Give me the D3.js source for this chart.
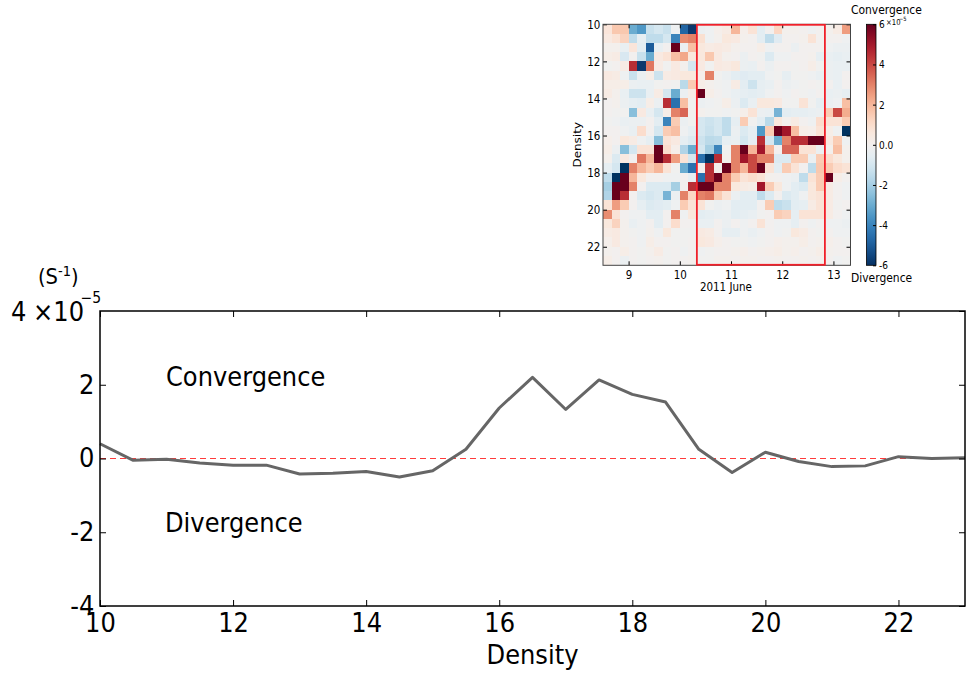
<!DOCTYPE html>
<html><head><meta charset="utf-8">
<script src="https://cdn.jsdelivr.net/npm/d3@7"></script>
<style>body{margin:0;background:#fff}svg{display:block}text{font-family:"DejaVu Sans",sans-serif}</style>
</head><body>
<svg id="c" width="967" height="673"></svg>
<script>
// ---- main line data (Density vs mean convergence, x1e-5 s^-1) ----
const lineDensity = [10,10.5,11,11.5,12,12.5,13,13.5,14,14.5,15,15.5,16,16.5,17,17.5,18,18.5,19,19.5,20,20.5,21,21.5,22,22.5,23];
const lineValues  = [0.40,-0.05,-0.02,-0.12,-0.18,-0.18,-0.42,-0.40,-0.35,-0.50,-0.33,0.25,1.37,2.20,1.33,2.13,1.74,1.53,0.25,-0.38,0.17,-0.08,-0.22,-0.20,0.05,0.00,0.02];
const mainXTicks = [10,12,14,16,18,20,22];
const mainYTicks = [-4,-2,0,2];

// ---- inset heatmap data ----
const heatCols = [8.5,8.6667,8.8333,9.0,9.1667,9.3333,9.5,9.6667,9.8333,10.0,10.1667,10.3333,10.5,10.6667,10.8333,11.0,11.1667,11.3333,11.5,11.6667,11.8333,12.0,12.1667,12.3333,12.5,12.6667,12.8333,13.0,13.1667];
const heatRows = [10,10.5,11,11.5,12,12.5,13,13.5,14,14.5,15,15.5,16,16.5,17,17.5,18,18.5,19,19.5,20,20.5,21,21.5,22,22.5];
const heatValues = [
[0.7,1.6,1.6,-3.0,-3.5,-1.3,-1.0,-1.3,-0.2,-4.8,-5.8,-0.3,-0.2,0.2,0.4,2.0,0.2,0.8,-0.6,0.0,1.2,0.1,0.1,0.0,-0.2,0.0,0.1,0.4,2.5],
[0.5,0.8,1.3,-1.5,-0.5,-1.5,-1.5,-1.0,-4.0,2.8,3.0,0.9,-0.2,0.1,0.6,0.5,0.1,0.0,-0.6,-1.5,-0.7,0.0,0.0,0.1,0.8,0.0,0.0,0.0,-0.2],
[0.1,0.1,-0.4,0.7,-0.6,-5.0,-0.4,0.0,6.0,-0.3,1.8,0.6,0.4,0.5,0.4,0.1,0.0,0.0,0.3,-0.2,0.0,0.0,-0.3,0.0,0.0,0.0,-0.2,-0.3,-0.3],
[0.3,0.4,-0.9,0.0,-1.3,-3.0,0.5,0.8,1.8,2.3,0.6,0.6,1.6,0.5,0.1,0.0,-0.3,0.0,-0.1,-0.8,-0.2,-0.2,0.0,0.0,0.1,-0.5,-0.4,-0.5,-0.4],
[-0.1,0.0,0.4,4.5,-5.8,3.2,0.4,-0.1,0.5,0.1,-1.0,0.5,-0.1,0.5,0.4,0.6,-0.3,-0.4,0.0,-0.3,0.0,0.0,-0.1,0.0,0.3,-0.1,-0.3,-0.4,-0.4],
[0.5,0.4,-0.2,-1.3,-0.3,0.3,-1.2,0.4,0.5,0.6,0.6,0.2,3.0,-0.1,-0.3,-0.6,-0.7,-0.6,-0.6,-0.2,-0.1,-0.5,-0.1,-0.1,-0.2,-0.4,-0.3,-0.4,0.0],
[0.3,0.3,0.3,-0.3,-0.4,-0.4,-0.1,0.0,-0.1,-1.6,1.5,0.3,0.1,-0.1,-0.2,0.4,-0.6,-1.2,-0.5,-0.4,0.0,-0.3,-0.2,-0.1,0.0,-0.1,0.0,-0.4,0.0],
[0.4,0.1,-0.4,-1.2,-1.2,-0.4,0.4,-1.0,-3.0,-0.3,0.3,6.0,0.3,0.0,-0.2,-0.4,-0.5,-0.6,-0.5,-0.2,0.0,-0.2,0.0,-0.1,-0.2,0.0,-0.4,-0.3,-0.5],
[0.0,0.1,-0.3,-0.5,-0.6,0.3,-0.3,4.5,-4.5,1.8,-0.1,-0.3,-0.2,-0.1,0.3,-0.3,-0.8,-0.4,0.6,0.6,0.5,-0.1,-0.1,0.8,-0.1,-0.5,-0.3,-0.2,1.8],
[0.0,-0.1,-0.1,-2.5,0.5,-0.4,-1.0,0.3,3.0,3.5,0.0,0.1,-0.1,-0.1,-0.2,-0.1,0.2,0.8,-0.3,-0.4,-2.8,-0.6,-0.5,-0.5,-0.4,-0.3,1.5,4.0,2.2],
[-0.1,-0.2,-0.4,-0.3,-0.3,0.0,-0.6,-4.0,1.5,-0.3,-0.1,-1.0,-1.2,-1.0,-1.5,-0.5,1.5,-0.1,-0.6,-1.6,0.6,0.1,0.4,0.0,-0.2,1.0,0.8,0.8,1.5],
[0.0,0.0,-0.2,-0.4,1.0,0.0,-1.0,1.5,1.8,-0.2,-0.5,-1.0,-1.3,-1.0,-1.5,-0.3,-0.8,-0.5,-3.5,1.5,6.0,5.0,1.8,0.3,0.2,0.8,0.3,-0.2,-6.0],
[0.2,0.0,0.6,0.4,-0.2,-0.5,-2.5,0.8,0.5,-0.5,-0.8,-1.2,-1.6,-1.5,-0.5,-0.4,-1.0,-0.5,4.5,-1.0,-3.0,3.0,4.5,4.5,6.0,6.0,0.5,1.5,-0.2],
[0.3,-0.3,-2.5,-1.0,0.8,0.8,6.0,1.0,0.2,-1.8,-3.0,-1.0,-2.0,-4.0,-0.1,3.0,6.0,2.0,5.0,2.0,0.0,3.5,3.5,0.8,0.8,-0.3,0.1,1.8,0.1],
[0.1,-0.8,0.5,0.0,3.2,2.0,6.0,4.5,2.5,0.8,-1.0,-4.5,-6.0,4.5,0.1,3.0,5.0,4.0,3.0,3.0,-0.8,-0.8,1.5,1.5,-0.3,1.5,1.0,0.6,0.1],
[-0.5,-1.0,-6.0,3.0,2.0,1.5,2.0,0.8,-0.1,-3.0,-4.5,0.0,4.5,0.1,6.0,3.0,2.0,4.0,6.0,0.8,-0.6,1.5,0.8,0.0,-1.5,1.6,1.5,1.0,0.8],
[-1.5,-6.0,6.0,2.0,0.6,0.0,0.0,-0.2,-0.2,0.0,-0.5,-4.5,4.5,6.0,3.0,1.5,0.8,1.0,0.8,0.1,0.0,-0.2,-0.3,-1.5,0.8,1.5,6.0,0.3,0.0],
[-2.0,6.0,6.0,3.0,0.0,-0.8,-0.8,-0.8,-2.0,0.0,4.5,6.0,6.0,3.0,3.0,0.6,0.4,0.3,5.0,1.5,0.6,-0.2,-0.6,-0.8,0.6,1.5,0.4,0.0,-0.2],
[-1.8,6.0,4.5,0.0,-0.8,-1.0,-0.8,-2.8,-0.3,3.0,1.2,3.0,3.2,1.5,0.8,-0.3,-0.6,-0.6,-1.5,-0.8,0.0,-0.8,-0.6,-0.2,0.6,0.8,0.4,0.0,-0.2],
[0.8,2.5,1.5,0.0,-0.5,-0.8,-0.7,-0.6,-0.2,1.5,0.8,0.8,-0.1,-0.3,-0.2,-0.6,-0.6,-0.6,0.0,1.5,-1.5,-1.3,-0.6,-0.5,0.4,0.8,0.4,-0.1,0.0],
[2.8,0.8,0.0,-0.2,-0.2,-0.6,-0.6,0.0,3.0,-0.2,0.6,-0.6,-0.5,-0.4,-0.3,-0.6,-0.5,-0.4,-0.1,0.0,1.5,1.3,-0.5,0.8,0.8,0.8,0.4,0.0,-0.2],
[0.6,1.3,0.1,-0.4,-0.2,0.0,-0.6,0.0,1.0,0.0,0.0,-0.4,-0.4,0.0,-0.3,0.0,-0.2,0.0,0.8,0.0,-0.2,-0.2,-0.5,0.0,-0.2,0.0,-0.2,-0.2,-0.3],
[0.4,0.5,0.1,-0.1,-0.2,0.1,-0.2,0.6,-0.1,-0.1,-0.1,0.5,0.4,0.0,-0.5,-0.5,-0.2,-0.4,-0.2,0.0,-0.2,-0.1,0.6,0.4,0.0,-0.1,0.0,-0.2,-0.2],
[0.2,0.5,0.1,0.0,-0.2,0.3,0.0,0.0,-0.1,-0.1,0.0,0.6,0.5,0.2,0.0,-0.1,-0.1,-0.2,-0.1,0.0,0.2,0.1,0.1,0.3,0.0,0.1,0.2,0.0,-0.1],
[0.1,0.0,0.3,0.0,-0.1,0.1,0.4,-0.1,0.0,-0.2,0.0,-0.2,-0.1,0.0,0.0,0.1,0.2,0.0,0.1,0.2,0.3,0.1,0.2,0.0,0.1,0.3,0.1,0.0,0.0],
[0.3,0.0,-0.3,0.0,-0.1,0.0,0.1,-0.1,0.0,0.0,0.1,-0.1,-0.1,0.1,0.1,0.0,0.1,0.1,0.0,0.0,0.1,0.0,0.0,0.1,0.0,0.1,0.0,-0.2,-0.1]
];
const heatXTicks = [9,10,11,12,13];
const heatYTicks = [10,12,14,16,18,20,22];
const cbTicks = [-6,-4,-2,0,2,4,6];
const boxDays = [10.3333,12.8333];

const SXM = 0.93; // horizontal squeeze of main-chart text
const SXI = 0.86; // horizontal squeeze of inset text
const svg = d3.select("#c");

function label(x, y, s, size, sx, anchor, rot) {
  const g = svg.append("g").attr("transform", `translate(${x},${y})` + (rot ? ` rotate(${rot})` : "") + ` scale(${rot ? 1 : sx},${rot ? sx : 1})`);
  return g.append("text").attr("font-size", size).attr("text-anchor", anchor || "start").attr("fill", "#000").text(s);
}

// ================= main chart =================
const mx = d3.scaleLinear().domain([10, 23]).range([100, 965]);
const my = d3.scaleLinear().domain([-4, 4]).range([606, 311]);

svg.append("line").attr("x1", mx(10)).attr("x2", mx(23)).attr("y1", my(0)).attr("y2", my(0))
  .attr("stroke", "#ff3b3b").attr("stroke-width", 1.2).attr("stroke-dasharray", "6,4");

const pts = lineDensity.map((d, i) => [d, lineValues[i]]);
svg.append("path").datum(pts)
  .attr("d", d3.line().x(d => mx(d[0])).y(d => my(d[1])))
  .attr("fill", "none").attr("stroke", "#666").attr("stroke-width", 3).attr("stroke-linejoin", "round");

function styleAxis(g, size, sx, noLabels) {
  g.select(".domain").remove();
  g.selectAll(".tick line").attr("stroke", "#000").attr("stroke-width", 1);
  if (noLabels) g.selectAll(".tick text").remove();
  else g.selectAll(".tick text").attr("font-size", size).attr("fill", "#000").attr("font-family", '"DejaVu Sans",sans-serif').attr("transform", `scale(${sx},1)`);
}
svg.append("g").attr("transform", "translate(0,606)")
  .call(d3.axisBottom(mx).tickValues(mainXTicks).tickSize(-6).tickPadding(8).tickFormat(d => String(d)))
  .call(g => styleAxis(g, 26, SXM));
svg.append("g").attr("transform", "translate(0,311)")
  .call(d3.axisTop(mx).tickValues(mainXTicks).tickSize(-6)).call(g => styleAxis(g, 26, SXM, true));
svg.append("g").attr("transform", "translate(100,0)")
  .call(d3.axisLeft(my).tickValues(mainYTicks).tickSize(-6).tickPadding(6).tickFormat(d => String(d)))
  .call(g => styleAxis(g, 26, SXM));
svg.append("g").attr("transform", "translate(965,0)")
  .call(d3.axisRight(my).tickValues([-4,-2,0,2,4]).tickSize(-6)).call(g => styleAxis(g, 26, SXM, true));
svg.append("rect").attr("x", 100).attr("y", 311).attr("width", 865).attr("height", 295)
  .attr("fill", "none").attr("stroke", "#000").attr("stroke-width", 1.5);

label(11, my(4) + 9.5, "4", 26, SXM);
label(33, my(4) + 9.5, "\u00d710", 26, SXM);
label(80.5, my(4) - 8.5, "\u22125", 15, SXM);
const unit = label(38, 284, "(S", 21, SXM);
unit.append("tspan").attr("font-size", 14).attr("dy", -8).text("-1");
unit.append("tspan").attr("font-size", 21).attr("dy", 8).text(")");

label(166, 386, "Convergence", 26, SXM);
label(165, 532, "Divergence", 26, SXM);
label(mx(16.5), 664, "Density", 26, SXM, "middle");

// ================= inset heatmap =================
const hx = d3.scaleLinear().domain([8.5, 13.3333]).range([603, 850.5]);
const hy = d3.scaleLinear().domain([10, 23]).range([24.3, 265.3]);
const color = d3.scaleSequential(t => d3.interpolateRdBu(1 - t)).domain([-6, 6]).clamp(true);

const defs = svg.append("defs");
defs.append("clipPath").attr("id", "hclip").append("rect")
  .attr("x", hx(8.5)).attr("y", hy(10)).attr("width", hx(13.3333) - hx(8.5)).attr("height", hy(23) - hy(10));
defs.append("filter").attr("id", "soft").attr("x", "-5%").attr("y", "-5%").attr("width", "110%").attr("height", "110%")
  .append("feGaussianBlur").attr("stdDeviation", 0.55);

const cells = [];
heatRows.forEach((r, i) => heatCols.forEach((c, j) => cells.push({r, c, v: heatValues[i][j]})));
svg.append("g").attr("clip-path", "url(#hclip)").append("g").attr("filter", "url(#soft)")
  .selectAll("rect").data(cells).join("rect")
  .attr("x", d => hx(d.c)).attr("y", d => hy(d.r))
  .attr("width", d => hx(d.c + 1/6) - hx(d.c) + 0.4)
  .attr("height", d => hy(d.r + 0.5) - hy(d.r) + 0.4)
  .attr("fill", d => color(d.v)).attr("shape-rendering", "crispEdges");

svg.append("g").attr("transform", `translate(0,${hy(23)})`)
  .call(d3.axisBottom(hx).tickValues(heatXTicks).tickSize(-4).tickPadding(5).tickFormat(d => String(d)))
  .call(g => styleAxis(g, 12, SXI));
svg.append("g").attr("transform", `translate(0,${hy(10)})`)
  .call(d3.axisTop(hx).tickValues(heatXTicks).tickSize(-4)).call(g => styleAxis(g, 12, SXI, true));
svg.append("g").attr("transform", `translate(${hx(8.5)},0)`)
  .call(d3.axisLeft(hy).tickValues(heatYTicks).tickSize(-4).tickPadding(3).tickFormat(d => String(d)))
  .call(g => styleAxis(g, 12, SXI));
svg.append("g").attr("transform", `translate(${hx(13.3333)},0)`)
  .call(d3.axisRight(hy).tickValues(heatYTicks).tickSize(-4)).call(g => styleAxis(g, 12, SXI, true));
svg.append("rect").attr("x", hx(8.5)).attr("y", hy(10)).attr("width", hx(13.3333) - hx(8.5)).attr("height", hy(23) - hy(10))
  .attr("fill", "none").attr("stroke", "#444").attr("stroke-width", 1);

svg.append("rect").attr("x", hx(boxDays[0])).attr("y", hy(10) + 0.5)
  .attr("width", hx(boxDays[1]) - hx(boxDays[0])).attr("height", hy(23) - hy(10) - 1)
  .attr("fill", "none").attr("stroke", "#f0202a").attr("stroke-width", 1.8);

label(hx(10.9), 291, "2011 June", 12, SXI, "middle");
label(581, (hy(10) + hy(23)) / 2, "Density", 12, SXI, "middle", -90);

// colorbar
const cbY = d3.scaleLinear().domain([-6, 6]).range([265.3, 24.3]);
const grad = defs.append("linearGradient").attr("id", "cb")
  .attr("x1", 0).attr("y1", 1).attr("x2", 0).attr("y2", 0);
d3.range(0, 1.0001, 0.05).forEach(t => grad.append("stop").attr("offset", t).attr("stop-color", color(-6 + 12 * t)));
svg.append("rect").attr("x", 866.5).attr("y", cbY(6)).attr("width", 9.5).attr("height", cbY(-6) - cbY(6))
  .attr("fill", "url(#cb)").attr("stroke", "#000").attr("stroke-width", 0.8);
svg.append("g").attr("transform", "translate(876,0)")
  .call(d3.axisRight(cbY).tickValues(cbTicks).tickSize(-3).tickPadding(3.5).tickFormat(d => d === 0 ? "0.0" : String(d)))
  .call(g => styleAxis(g, 10.5, SXI));
label(886, cbY(6) + 1, "\u00d710", 8, SXI);
label(899, cbY(6) - 3, "\u22125", 6, SXI);
label(851, 14, "Convergence", 12.5, SXI);
label(851, 282, "Divergence", 12.5, SXI);
</script>
</body></html>
